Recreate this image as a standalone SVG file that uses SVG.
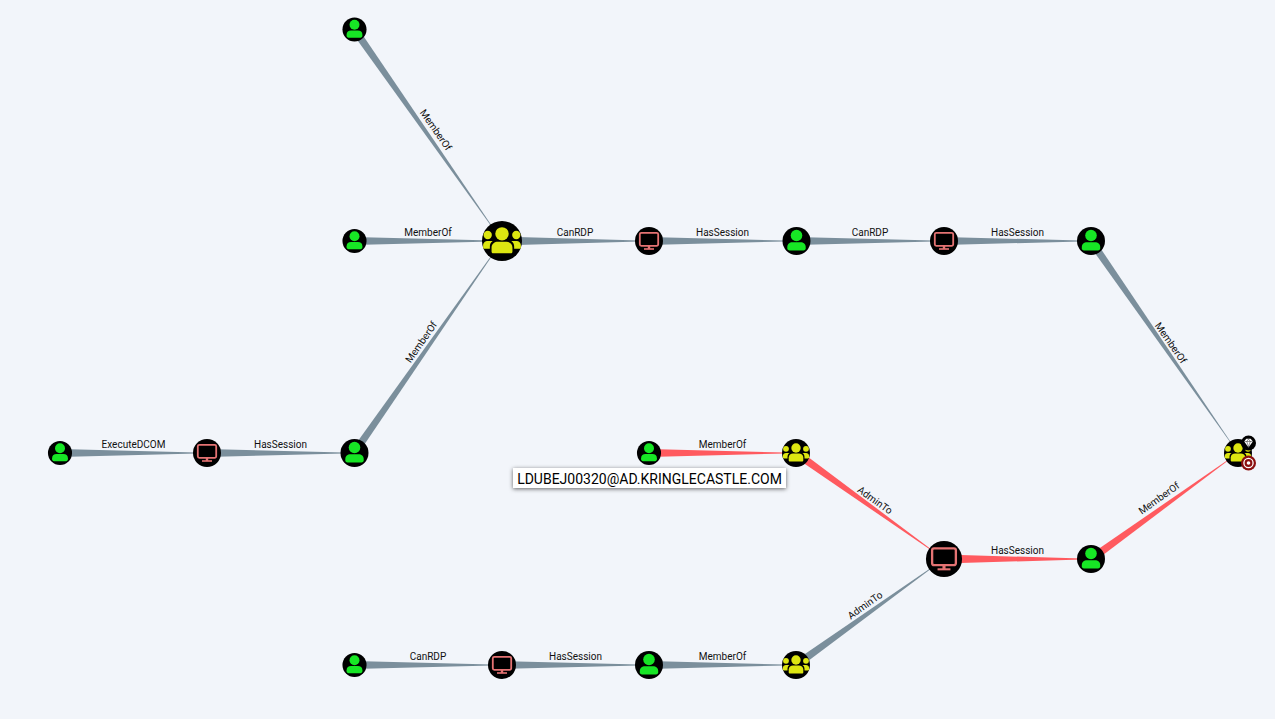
<svg xmlns="http://www.w3.org/2000/svg" xmlns:xlink="http://www.w3.org/1999/xlink" width="1275" height="719" viewBox="0 0 1275 719">
<style>
.bg{fill:#f2f5fa}
.e{fill:#7b8f9c}
.r{fill:#ff5a5f}
.l{font-family:Roboto,"Liberation Sans",sans-serif;font-size:10px;fill:#111;text-anchor:middle}
.tip{font-family:Roboto,"Liberation Sans",sans-serif;font-size:14px;fill:#000;text-anchor:middle}
.u{fill:#17e625}
.g{fill:#dde611}
</style>
<defs>
<filter id="sh" x="-10%" y="-30%" width="120%" height="170%"><feDropShadow dx="0" dy="1" stdDeviation="2" flood-color="#000" flood-opacity=".6"/></filter>
<g id="user"><circle r="14" fill="#000"/><circle cx="0" cy="-5.500" r="5.800" class="u"/><path class="u" d="M-9.200 7.300V6C-9.200 3 -7 1.300 -4 1.300H4C7 1.300 9.200 3 9.200 6V7.300C9.200 8.600 8.300 9.500 7 9.500H-7C-8.300 9.500 -9.200 8.600 -9.200 7.300Z"/></g>
<g id="group"><circle r="14" fill="#000"/><circle cx="0" cy="-5" r="4.700" class="g"/><circle cx="-10" cy="-4.200" r="2.900" class="g"/><circle cx="10" cy="-4.200" r="2.900" class="g"/><path class="g" d="M-7.300 7.300V4.500C-7.300 1.800 -5 0.500 -3 0.500H3C5 0.500 7.300 1.800 7.300 4.500V7.300C7.300 8.200 6.800 8.600 6 8.600H-6C-6.800 8.600 -7.300 8.200 -7.300 7.300Z"/><path class="g" d="M-8.500 5.500H-12C-12.800 5.500 -13.200 5 -13.200 4.300V3C-13.200 1 -11.500 0 -10 0H-6.500C-8 1 -8.500 2.500 -8.500 4ZM8.500 5.500H12C12.800 5.500 13.200 5 13.200 4.300V3C13.200 1 11.500 0 10 0H6.500C8 1 8.500 2.500 8.500 4Z"/></g>
<g id="comp"><circle r="14" fill="#000"/><rect x="-9.200" y="-8.200" width="18.400" height="13" rx="1.500" fill="none" stroke="#e57373" stroke-width="1.800"/><rect x="-1.200" y="4.500" width="2.400" height="3.500" fill="#e57373"/><rect x="-5" y="7.200" width="10" height="1.600" fill="#e57373"/></g>
</defs>
<rect class="bg" width="1275" height="719"/>
<g id="connectors">
<polygon class="e" points="357.1,26.800 350.9,31.200 501.9,241.100 502.100,240.900"/>
<polygon class="e" points="354,237 354,245 502,241.200 502,240.800"/>
<polygon class="e" points="350.900,450.800 357.100,455.200 502.100,241.100 501.900,240.900"/>
<polygon class="e" points="502,236.500 502,245.500 649,241.200 649,240.800"/>
<polygon class="e" points="649,237 649,245 796,241.200 796,240.800"/>
<polygon class="e" points="796,237 796,245 944,241.200 944,240.800"/>
<polygon class="e" points="944,237 944,245 1091,241.200 1091,240.800"/>
<polygon class="e" points="1094.100,238.800 1087.900,243.200 1237.900,453.100 1238.100,452.900"/>
<polygon class="e" points="60,449 60,457 207,453.200 207,452.800"/>
<polygon class="e" points="207,449 207,457 354,453.200 354,452.800"/>
<polygon class="e" points="354,661 354,669 502,665.200 502,664.800"/>
<polygon class="e" points="502,661 502,669 649,665.200 649,664.800"/>
<polygon class="e" points="649,661 649,669 796,665.200 796,664.800"/>
<polygon class="e" points="793.600,661.800 798.400,668.200 944.100,559.100 943.900,558.900"/>
<polygon class="r" points="649,449 649,457 796,453.200 796,452.800"/>
<polygon class="r" points="798.400,449.800 793.600,456.200 943.900,559.100 944.100,558.900"/>
<polygon class="r" points="944,554.500 944,563.500 1091,559.200 1091,558.800"/>
<polygon class="r" points="1088.600,555.800 1093.400,562.200 1238.100,453.100 1237.900,452.900"/>
</g>
<g id="edge-labels">
<text class="l" transform="translate(433,132) rotate(55)">MemberOf</text>
<text class="l" x="428" y="236">MemberOf</text>
<text class="l" transform="translate(424,344) rotate(-55)">MemberOf</text>
<text class="l" x="575" y="236">CanRDP</text>
<text class="l" x="722.500" y="236">HasSession</text>
<text class="l" x="870" y="236">CanRDP</text>
<text class="l" x="1017.500" y="236">HasSession</text>
<text class="l" transform="translate(1168,345) rotate(55)">MemberOf</text>
<text class="l" x="133.500" y="448">ExecuteDCOM</text>
<text class="l" x="280.500" y="448">HasSession</text>
<text class="l" x="722.500" y="448">MemberOf</text>
<text class="l" transform="translate(873,503) rotate(35.600)">AdminTo</text>
<text class="l" x="1017.500" y="554">HasSession</text>
<text class="l" transform="translate(1161,501) rotate(-35.600)">MemberOf</text>
<text class="l" transform="translate(867,608) rotate(-35.600)">AdminTo</text>
<text class="l" x="428" y="660">CanRDP</text>
<text class="l" x="575.500" y="660">HasSession</text>
<text class="l" x="722.500" y="660">MemberOf</text>
</g>
<g id="n1"><use xlink:href="#user" href="#user" transform="translate(354.500,29.500) scale(.86)"/></g>
<g id="n2"><use xlink:href="#user" href="#user" transform="translate(354.500,241) scale(.86)"/></g>
<g id="n3"><use xlink:href="#group" href="#group" transform="translate(502,241) scale(1.43)"/></g>
<g id="n4"><use xlink:href="#comp" href="#comp" transform="translate(649,241)"/></g>
<g id="n5"><use xlink:href="#user" href="#user" transform="translate(796.500,241)"/></g>
<g id="n6"><use xlink:href="#comp" href="#comp" transform="translate(944,241)"/></g>
<g id="n7"><use xlink:href="#user" href="#user" transform="translate(1091,241)"/></g>
<g id="n8"><use xlink:href="#user" href="#user" transform="translate(60,453) scale(.86)"/></g>
<g id="n9"><use xlink:href="#comp" href="#comp" transform="translate(207,453)"/></g>
<g id="n10"><use xlink:href="#user" href="#user" transform="translate(354.500,453)"/></g>
<g id="n11"><use xlink:href="#user" href="#user" transform="translate(649,453) scale(.86)"/></g>
<g id="n12"><use xlink:href="#group" href="#group" transform="translate(796,453)"/></g>
<g id="n13"><use xlink:href="#comp" href="#comp" transform="translate(944,559) scale(1.29)"/></g>
<g id="n14"><use xlink:href="#user" href="#user" transform="translate(1091,559)"/></g>
<g id="n15"><use xlink:href="#user" href="#user" transform="translate(354.500,665) scale(.86)"/></g>
<g id="n16"><use xlink:href="#comp" href="#comp" transform="translate(502,665)"/></g>
<g id="n17"><use xlink:href="#user" href="#user" transform="translate(649,665)"/></g>
<g id="n18"><use xlink:href="#group" href="#group" transform="translate(796,665)"/></g>
<g id="n19"><use xlink:href="#group" href="#group" transform="translate(1238,453)"/>
<circle cx="1248.500" cy="443" r="7.500" fill="#000"/>
<path d="M1244.200 441.500L1246.300 438.800H1250.700L1252.800 441.500L1248.500 447.500Z" fill="#fff"/>
<path d="M1244.500 441.500H1252.500M1246.800 441.500L1248.500 447M1250.200 441.500L1248.500 447M1246.800 441.500L1248.500 439M1250.200 441.500L1248.500 439" fill="none" stroke="#000" stroke-width=".4"/>
<circle cx="1248.500" cy="463" r="7.500" fill="#8b0f0f"/>
<circle cx="1248.500" cy="463" r="4.600" fill="none" stroke="#fff" stroke-width="1.300"/>
<circle cx="1248.500" cy="463" r="1.800" fill="#fff"/>
</g>
<g id="tooltip">
<rect x="513" y="468" width="273" height="20" fill="#fff" filter="url(#sh)"/>
<text class="tip" x="649.500" y="484">LDUBEJ00320@AD.KRINGLECASTLE.COM</text>
</g>
</svg>
